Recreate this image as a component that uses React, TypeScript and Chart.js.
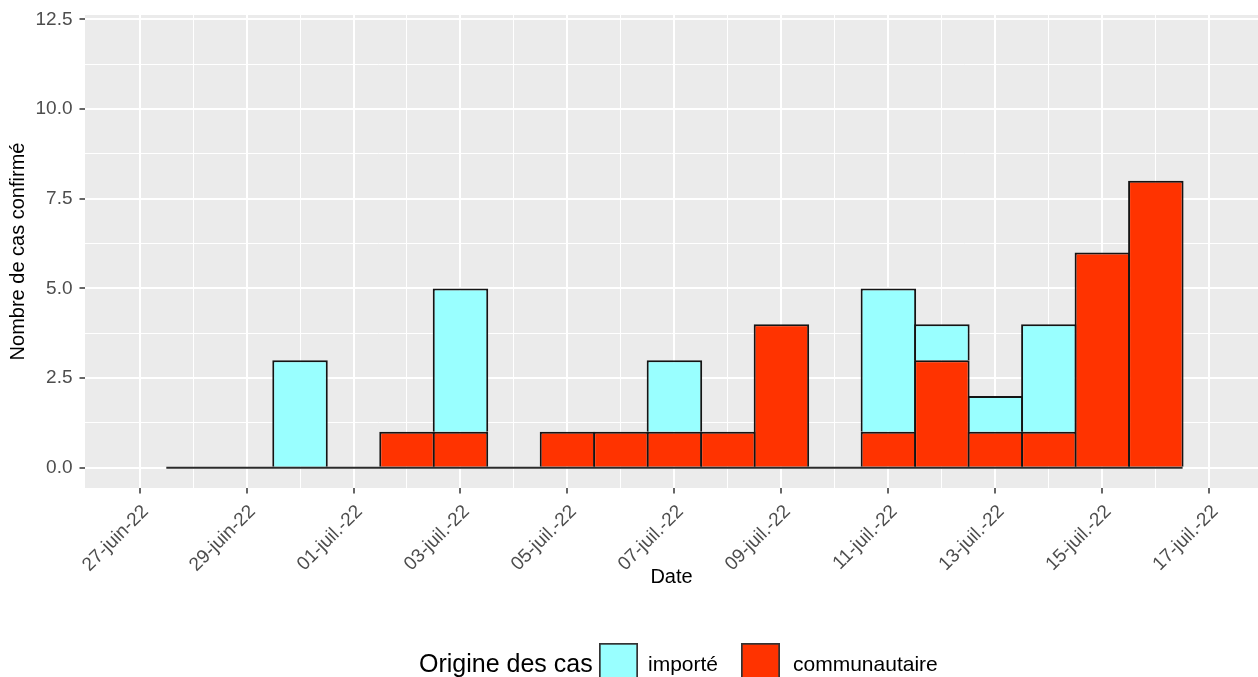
import React, { useEffect, useRef } from 'react';
import { Chart, registerables } from 'chart.js';

Chart.register(...registerables);

// ---- Data ----
const baseDate = '2022-06-27';
const binDates = [
  '2022-06-28', '2022-06-29', '2022-06-30', '2022-07-01', '2022-07-02', '2022-07-03', '2022-07-04',
  '2022-07-05', '2022-07-06', '2022-07-07', '2022-07-08', '2022-07-09', '2022-07-10', '2022-07-11',
  '2022-07-12', '2022-07-13', '2022-07-14', '2022-07-15', '2022-07-16',
];
const importe = [0, 0, 3, 0, 0, 4, 0, 0, 0, 2, 0, 0, 0, 4, 1, 1, 3, 0, 0];
const communautaire = [0, 0, 0, 0, 1, 1, 0, 1, 1, 1, 1, 4, 0, 1, 3, 1, 1, 6, 8];

const xTickDates = [
  '2022-06-27', '2022-06-29', '2022-07-01', '2022-07-03', '2022-07-05', '2022-07-07',
  '2022-07-09', '2022-07-11', '2022-07-13', '2022-07-15', '2022-07-17',
];
const xTickLabels = [
  '27-juin-22', '29-juin-22', '01-juil.-22', '03-juil.-22', '05-juil.-22', '07-juil.-22',
  '09-juil.-22', '11-juil.-22', '13-juil.-22', '15-juil.-22', '17-juil.-22',
];
const yTickValues = [0, 2.5, 5, 7.5, 10, 12.5];
const yTickLabels = ['0.0', '2.5', '5.0', '7.5', '10.0', '12.5'];

const seriesNames = ['importé', 'communautaire'];
const seriesColors = ['#99FFFF', '#FF3300'];

// ---- helpers ----
const dayOf = (d: string) =>
  Math.round((Date.parse(d + 'T00:00:00Z') - Date.parse(baseDate + 'T00:00:00Z')) / 86400000);

const FONT = "'Liberation Sans', Arial, sans-serif";
const W = 1258;
const H = 677;
const X_MIN = -1.02;
const X_MAX = 20.91;
const Y_MIN = -0.566;
const Y_MAX = 12.625;
const BW = 2;
const PANEL_LEFT = 85;
const PANEL_BOTTOM_SPACE = 189;
const PX_PER_DAY = (W - PANEL_LEFT) / (X_MAX - X_MIN);

const xMajor = xTickDates.map(dayOf);
const xMinor: number[] = [];
for (let i = 0; i < xMajor.length - 1; i++) xMinor.push((xMajor[i] + xMajor[i + 1]) / 2);
const yMinor: number[] = [];
for (let i = 0; i < yTickValues.length - 1; i++) yMinor.push((yTickValues[i] + yTickValues[i + 1]) / 2);

const isXMajor = (v: number) => xMajor.some((m) => Math.abs(m - v) < 1e-6);
const isYMajor = (v: number) => yTickValues.some((m) => Math.abs(m - v) < 1e-6);

const panelBg = {
  id: 'panelBg',
  beforeDraw(chart: any) {
    const { ctx, chartArea } = chart;
    ctx.save();
    ctx.fillStyle = '#EBEBEB';
    ctx.fillRect(chartArea.left, chartArea.top, chartArea.right - chartArea.left, chartArea.bottom - chartArea.top);
    ctx.restore();
  },
};

const bottomLegend = {
  id: 'bottomLegend',
  afterDraw(chart: any) {
    const { ctx } = chart;
    ctx.save();
    ctx.textBaseline = 'alphabetic';
    ctx.textAlign = 'left';
    ctx.fillStyle = '#000000';
    ctx.font = `25px ${FONT}`;
    ctx.fillText('Origine des cas', 419, 672);
    const boxes = [599, 741];
    const labelsX = [648, 793];
    for (let i = 0; i < seriesNames.length; i++) {
      ctx.fillStyle = seriesColors[i];
      ctx.fillRect(boxes[i], 643, 39, 39);
      ctx.strokeStyle = '#333333';
      ctx.lineWidth = 1.7;
      ctx.strokeRect(boxes[i] + 0.85, 643.85, 37.3, 39);
      ctx.fillStyle = '#000000';
      ctx.font = `21px ${FONT}`;
      ctx.fillText(seriesNames[i], labelsX[i], 671);
    }
    ctx.restore();
  },
};

export default function App() {
  const canvasRef = useRef<HTMLCanvasElement | null>(null);

  useEffect(() => {
    if (!canvasRef.current) return;
    const binX = binDates.map(dayOf);
    const barPct = 1 + BW / PX_PER_DAY;

    const chart = new Chart(canvasRef.current, {
      type: 'bar',
      data: {
        datasets: [
          {
            type: 'bar',
            label: seriesNames[1],
            data: binX.map((x, i) => ({ x, y: communautaire[i] === 0 ? null : communautaire[i] })),
            backgroundColor: seriesColors[1],
            borderColor: '#141414',
            borderWidth: BW,
            borderSkipped: 'start',
            inflateAmount: 0,
            barPercentage: barPct,
            categoryPercentage: 1,
            stack: 's',
            order: 1,
          } as any,
          {
            type: 'bar',
            label: seriesNames[0],
            data: binX.map((x, i) => ({ x, y: importe[i] === 0 ? null : importe[i] })),
            backgroundColor: seriesColors[0],
            borderColor: '#141414',
            borderWidth: BW,
            borderSkipped: 'start',
            inflateAmount: 0,
            barPercentage: barPct,
            categoryPercentage: 1,
            stack: 's',
            order: 1,
          } as any,
          {
            type: 'line',
            label: 'base',
            data: [
              { x: binX[0] - 0.5, y: 0 },
              { x: binX[binX.length - 1] + 0.5, y: 0 },
            ],
            borderColor: '#2a2a2a',
            borderWidth: BW,
            pointRadius: 0,
            fill: false,
            stack: 'base',
            order: 0,
          } as any,
        ],
      },
      options: {
        responsive: false,
        animation: false,
        events: [],
        layout: { padding: { top: 15, left: 0, right: 0, bottom: 0 } },
        plugins: {
          legend: { display: false },
          tooltip: { enabled: false },
        },
        scales: {
          x: {
            type: 'linear',
            stacked: true,
            min: X_MIN,
            max: X_MAX,
            offset: false,
            afterBuildTicks: (scale: any) => {
              const vals = [...xMajor, ...xMinor].sort((a, b) => a - b);
              scale.ticks = vals.map((v) => ({ value: v }));
            },
            afterFit: (scale: any) => {
              scale.height = PANEL_BOTTOM_SPACE;
              scale.paddingLeft = 0;
              scale.paddingRight = 0;
            },
            grid: {
              offset: false,
              color: '#FFFFFF',
              lineWidth: (c: any) => (c.tick && isXMajor(c.tick.value) ? 2 : 1),
              drawTicks: true,
              tickLength: 5.5,
              tickWidth: 1.5,
              tickColor: (c: any) => (c.tick && isXMajor(c.tick.value) ? '#333333' : 'rgba(0,0,0,0)'),
            },
            border: { display: false },
            ticks: {
              autoSkip: false,
              minRotation: 45,
              maxRotation: 45,
              padding: 7,
              labelOffset: 6,
              color: '#4D4D4D',
              font: { family: FONT, size: 19 },
              callback: (v: any) => {
                const idx = xMajor.findIndex((m) => Math.abs(m - Number(v)) < 1e-6);
                return idx >= 0 ? xTickLabels[idx] : '';
              },
            },
            title: {
              display: true,
              text: 'Date',
              color: '#000000',
              font: { family: FONT, size: 20 },
              padding: { top: 0, bottom: 88 },
            },
          },
          y: {
            type: 'linear',
            stacked: true,
            min: Y_MIN,
            max: Y_MAX,
            afterBuildTicks: (scale: any) => {
              const vals = [...yTickValues, ...yMinor].sort((a, b) => a - b);
              scale.ticks = vals.map((v) => ({ value: v }));
            },
            afterFit: (scale: any) => {
              scale.width = PANEL_LEFT;
              scale.paddingTop = 0;
              scale.paddingBottom = 0;
            },
            grid: {
              color: '#FFFFFF',
              lineWidth: (c: any) => (c.tick && isYMajor(c.tick.value) ? 2 : 1),
              drawTicks: true,
              tickLength: 5.5,
              tickWidth: 1.5,
              tickColor: (c: any) => (c.tick && isYMajor(c.tick.value) ? '#333333' : 'rgba(0,0,0,0)'),
            },
            border: { display: false },
            ticks: {
              autoSkip: false,
              padding: 7,
              color: '#4D4D4D',
              font: { family: FONT, size: 19 },
              callback: (v: any) => {
                const idx = yTickValues.findIndex((m) => Math.abs(m - Number(v)) < 1e-6);
                return idx >= 0 ? yTickLabels[idx] : '';
              },
            },
            title: {
              display: true,
              text: 'Nombre de cas confirmé',
              color: '#000000',
              font: { family: FONT, size: 20 },
              padding: { top: 6, bottom: 0 },
            },
          },
        },
      } as any,
      plugins: [panelBg, bottomLegend],
    });
    return () => chart.destroy();
  }, []);

  return (
    <div style={{ position: 'absolute', left: 0, top: 0, width: W, height: H, background: '#FFFFFF' }}>
      <canvas ref={canvasRef} width={W} height={H} style={{ display: 'block', width: W, height: H }} />
    </div>
  );
}
